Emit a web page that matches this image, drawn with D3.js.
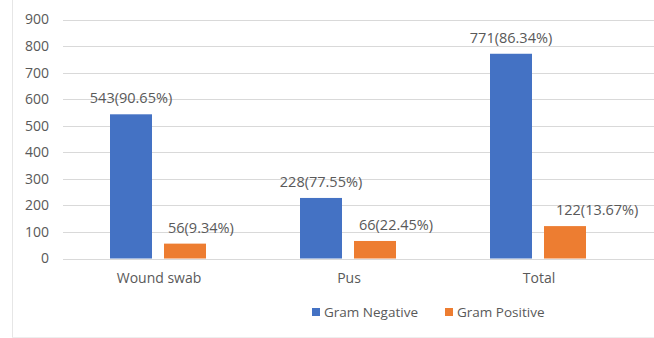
<!DOCTYPE html>
<html><head><meta charset="utf-8">
<script src="https://cdn.jsdelivr.net/npm/d3@7"></script>
<style>body{margin:0;background:#fff}svg{display:block}</style>
</head><body>
<script>
const categories = ["Wound swab", "Pus", "Total"];
const seriesNames = ["Gram Negative", "Gram Positive"];
const gramNegative = [543, 228, 771];
const gramPositive = [56, 66, 122];
const negLabels = ["543(90.65%)", "228(77.55%)", "771(86.34%)"];
const posLabels = ["56(9.34%)", "66(22.45%)", "122(13.67%)"];
const yTicks = [0, 100, 200, 300, 400, 500, 600, 700, 800, 900];
const colors = ["#4472C4", "#ED7D31"];

const W = 654, H = 338;
const svg = d3.select("body").append("svg").attr("width", W).attr("height", H);
const font = "'Open Sans', 'Liberation Sans', sans-serif";
const txt = "#595959";

// frame
svg.append("line").attr("x1", 12.5).attr("x2", 12.5).attr("y1", 0).attr("y2", 337).attr("stroke", "#e6e6e6");
svg.append("line").attr("x1", 12).attr("x2", W).attr("y1", 337.5).attr("y2", 337.5).attr("stroke", "#eeeeee");

const y = d3.scaleLinear().domain([0, 900]).range([258.5, 19.5]);
const x = d3.scaleBand().domain(categories).range([63, 633]);
const x1 = d3.scaleBand().domain(seriesNames).range([0, 96]).paddingInner(12 / 54);
const barX = (i, si) => x(categories[i]) + (x.bandwidth() - 96) / 2 + x1(seriesNames[si]);

// gridlines
svg.append("g").selectAll("line").data(yTicks).join("line")
  .attr("x1", 63).attr("x2", W).attr("y1", d => Math.round(y(d)) + 0.5).attr("y2", d => Math.round(y(d)) + 0.5)
  .attr("stroke", "#d9d9d9").attr("stroke-width", 1);

// y axis labels
const yAxis = d3.axisLeft(y).tickValues(yTicks).tickSize(0).tickPadding(0);
const gy = svg.append("g").attr("transform", "translate(49,0)").call(yAxis);
gy.select(".domain").remove();
gy.selectAll("text").attr("font-family", font).attr("font-size", 14).attr("fill", txt);

// bars
const series = [gramNegative, gramPositive];
series.forEach((vals, si) => {
  svg.append("g").selectAll("rect").data(vals).join("rect")
    .attr("x", (d, i) => barX(i, si))
    .attr("width", x1.bandwidth())
    .attr("y", d => y(d))
    .attr("height", d => y(0) - y(d))
    .attr("fill", colors[si]);
});

// data labels: blue centred above bar, orange starting just right of bar's left edge
svg.append("g").selectAll("text").data(gramNegative).join("text")
  .attr("x", (d, i) => barX(i, 0) + x1.bandwidth() / 2)
  .attr("y", d => y(d) - 11)
  .attr("text-anchor", "middle")
  .attr("font-family", font).attr("font-size", 14.5).attr("fill", txt)
  .text((d, i) => negLabels[i]);
const posDx = [4, 5, 12];
svg.append("g").selectAll("text").data(gramPositive).join("text")
  .attr("x", (d, i) => barX(i, 1) + posDx[i])
  .attr("y", d => y(d) - 11)
  .attr("text-anchor", "start")
  .attr("font-family", font).attr("font-size", 14.5).attr("fill", txt)
  .text((d, i) => posLabels[i]);

// x axis labels
const xAxis = d3.axisBottom(x).tickSize(0).tickPadding(0);
const gx = svg.append("g").attr("transform", "translate(1,273)").call(xAxis);
gx.select(".domain").remove();
gx.selectAll("text").attr("font-family", font).attr("font-size", 14).attr("fill", txt);

// legend
const legendX = [312, 445];
const lg = svg.append("g");
seriesNames.forEach((n, i) => {
  lg.append("rect").attr("x", legendX[i]).attr("y", 308).attr("width", 8).attr("height", 8).attr("fill", colors[i]);
  lg.append("text").attr("x", legendX[i] + 12).attr("y", 317)
    .attr("font-family", font).attr("font-size", 13.5).attr("fill", txt).text(n);
});
</script>
</body></html>
